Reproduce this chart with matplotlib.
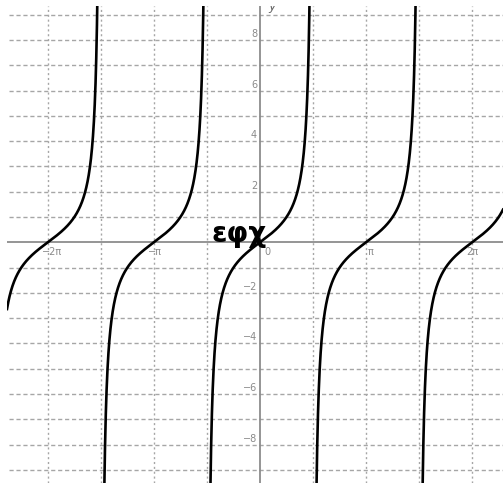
import numpy as np
import matplotlib
matplotlib.use("Agg")
import matplotlib.pyplot as plt

# ---- data ----
branch_centers = [-2 * np.pi, -np.pi, 0.0, np.pi, 2 * np.pi]   # zeros of tan x
x_tick_pos = [-2 * np.pi, -np.pi, 0.0, np.pi, 2 * np.pi]
x_tick_labels = ["\u22122\u03c0", "\u2212\u03c0", "0", "\u03c0", "2\u03c0"]
y_tick_pos = [8, 6, 4, 2, -2, -4, -6, -8]
y_tick_labels = ["8", "6", "4", "2", "\u22122", "\u22124", "\u22126", "\u22128"]
title_text = "\u03b5\u03c6\u03c7"

W, H = 503, 483
fig = plt.figure(figsize=(W / 100, H / 100), dpi=100)
# plot area in pixels: x 7..503, y 6..483 (from top)
ax = fig.add_axes([7 / W, 0, (W - 7) / W, (H - 6) / H])
ax.set_axis_off()

px_per_x = 33.77
px_per_y = 25.28
x0_px, y0_px = 260.0, 242.3
ax.set_xlim((7 - x0_px) / px_per_x, (W - x0_px) / px_per_x)
ax.set_ylim(-(H - y0_px) / px_per_y, (y0_px - 6) / px_per_y)
xmin, xmax = ax.get_xlim()
ymin, ymax = ax.get_ylim()

grid_col = "#a6a6a6"
# horizontal dashed grid every 1 unit
for yv in range(-9, 10):
    if yv == 0:
        continue
    ax.plot([xmin + 0.05, xmax], [yv, yv], color=grid_col, lw=1.0,
            dashes=(3, 2), zorder=1)
# vertical dotted grid every pi/2
for k in range(-4, 5):
    xv = k * np.pi / 2
    if k == 0:
        continue
    ax.plot([xv, xv], [ymin, ymax], color=grid_col, lw=1.0,
            dashes=(1.5, 2.0), zorder=1)

# axes lines
ax.plot([xmin, xmax], [0, 0], color="#8c8c8c", lw=1.3, zorder=2)
ax.plot([0, 0], [ymin, ymax], color="#8c8c8c", lw=1.3, zorder=2)

# tangent branches
for c in branch_centers:
    lo = max(c - np.pi / 2 + 1e-3, xmin)
    hi = min(c + np.pi / 2 - 1e-3, xmax)
    xs = np.linspace(lo, hi, 800)
    ys = np.tan(xs)
    ax.plot(xs, ys, color="black", lw=1.9, zorder=3, clip_on=True)

# tick labels
lab_col = "#8a8a8a"
x_label_px = [52, 155, 267, 371, 472]
for pos, lab, lpx in zip(x_tick_pos, x_tick_labels, x_label_px):
    ax.text((lpx - x0_px) / px_per_x, -10 / px_per_y, lab, fontsize=7,
            color=lab_col, ha="center", va="center", zorder=4)
for pos, lab in zip(y_tick_pos, y_tick_labels):
    ax.text(-3 / px_per_x, pos + 1 / px_per_y, lab, fontsize=7,
            color=lab_col, ha="right", va="bottom", zorder=4)

# cut-off y label at top
ax.text(12 / px_per_x, ymax - 1 / px_per_y, "y", fontsize=9, style="italic",
        color="#666666", ha="center", va="center", zorder=4, clip_on=True)

# big label
ax.text((239.5 - x0_px) / px_per_x, 0.0, title_text, fontsize=20,
        fontweight="bold", family=["DejaVu Sans"],
        color="black", ha="center", va="baseline", zorder=5)

fig.savefig("out.png", dpi=100)
